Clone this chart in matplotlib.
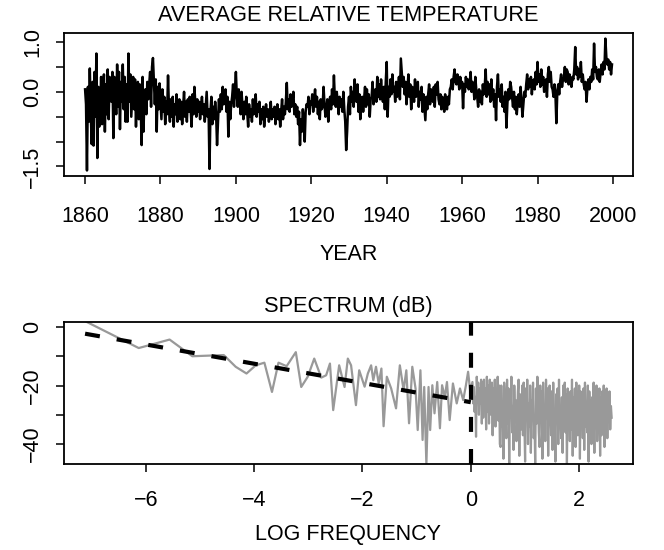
import matplotlib
matplotlib.use("Agg")
import matplotlib.pyplot as plt
import numpy as np

# monthly-ish anomalies, 4 values per year, 1860-1999
temp_start = 1860
temp_per_year = 4
temp_values = [
    # 1860s
    0.05, -0.25, -1.58, 0.10, -0.60, 0.47, -0.40, -1.05, 0.20, -1.08, 0.40, -0.50,
    0.77, -1.33, 0.10, -0.70, -0.35, 0.30, -0.65, 0.00, 0.35, -0.80, 0.15, -0.45,
    0.45, -0.55, 0.30, -0.10, -0.20, 0.40, -0.93, 0.30, 0.10, -0.45, 0.55, -0.30,
    0.40, -0.75, 0.20, -0.20,
    # 1870s
    0.55, -0.35, 0.30, -0.60, 0.15, -0.60, 0.77, -0.20, 0.35, -0.50, -0.10, 0.30,
    -0.35, 0.25, -0.70, 0.10, 0.20, -0.55, 0.15, -0.30, -1.07, 0.30, -0.80, 0.00,
    0.05, -0.45, 0.20, -0.15, 0.15, 0.40, -0.30, 0.50, 0.68, 0.20, -0.25, 0.25,
    -0.80, 0.10, -0.35, 0.17,
    # 1880s
    -0.20, -0.55, 0.05, -0.40, -0.10, -0.65, -0.20, -0.45, 0.33, -0.35, -0.60, -0.15,
    -0.50, -0.10, -0.70, -0.25, -0.45, -0.05, -0.60, -0.30, -0.15, -0.55, -0.20, -0.65,
    -0.30, 0.00, -0.50, -0.20, -0.60, -0.15, -0.40, -0.10, -0.35, -0.70, -0.05, -0.45,
    0.10, -0.25, -0.50, -0.15,
    # 1890s
    -0.40, -0.20, -0.55, -0.30, -0.10, -0.45, -0.25, -0.60, -0.30, 0.00, -0.50, -0.35,
    -1.55, -0.40, -0.10, -0.65, -0.30, -0.55, -0.20, -0.45, -1.07, -0.60, -0.15, -0.40,
    -0.05, -0.35, 0.10, -0.25, -0.15, 0.05, -0.40, -0.10, -0.90, -0.20, -0.55, -0.25,
    -0.10, 0.15, -0.30, 0.05,
    # 1900s
    0.40, -0.10, -0.30, 0.05, -0.15, -0.45, 0.00, -0.30, -0.55, -0.20, -0.45, -0.10,
    -0.40, -0.70, -0.25, -0.50, -0.35, -0.60, -0.15, -0.45, -0.30, -0.05, -0.50, -0.25,
    -0.40, -0.20, -0.65, -0.35, -0.55, -0.30, -0.70, -0.45, -0.25, -0.50, -0.35, -0.60,
    -0.45, -0.20, -0.55, -0.35,
    # 1910s
    -0.50, -0.30, -0.65, -0.40, -0.25, -0.55, -0.35, -0.70, -0.40, -0.15, -0.55, -0.30,
    -0.45, -0.20, 0.18, -0.35, -0.15, -0.40, -0.05, -0.30, -0.20, 0.00, -0.45, -0.25,
    -0.50, -0.30, -0.65, -0.40, -1.07, -0.55, -0.80, -0.35, -0.60, -1.00, -0.40, -0.25,
    -0.30, -0.10, -0.45, -0.20,
    # 1920s
    -0.25, -0.05, -0.40, -0.15, 0.05, -0.30, -0.10, -0.45, -0.20, -0.55, -0.15, -0.35,
    -0.30, 0.10, -0.25, -0.50, -0.35, -0.15, -0.60, -0.20, -0.10, -0.35, 0.05, -0.25,
    0.33, -0.15, -0.30, 0.00, -0.20, -0.45, -0.10, -0.30, -0.15, -0.40, 0.00, -0.35,
    -0.60, -1.17, -0.80, -0.30,
    # 1930s
    -0.10, -0.45, 0.10, -0.20, 0.00, -0.30, 0.25, -0.15, -0.20, 0.15, -0.40, -0.05,
    -0.55, -0.25, -0.10, -0.40, -0.15, 0.10, -0.30, 0.05, -0.25, -0.05, -0.50, -0.15,
    -0.10, 0.20, -0.25, 0.00, 0.05, -0.20, 0.30, -0.10, 0.15, -0.15, 0.25, -0.05,
    -0.20, 0.10, -0.35, 0.20,
    # 1940s
    0.60, -0.50, 0.10, -0.10, 0.25, -0.05, 0.35, 0.00, 0.10, -0.20, 0.20, -0.10,
    0.05, 0.30, -0.15, 0.67, 0.40, 0.10, 0.30, -0.05, 0.20, -0.25, 0.05, 0.35,
    -0.10, 0.15, -0.35, 0.10, 0.05, -0.20, 0.25, -0.10, -0.05, 0.20, -0.30, 0.00,
    -0.15, 0.10, -0.40, -0.05,
    # 1950s
    -0.30, -0.57, -0.10, -0.35, -0.05, 0.15, -0.25, 0.05, 0.00, -0.20, 0.10, -0.30,
    0.15, -0.05, 0.20, -0.15, -0.25, -0.05, -0.35, -0.10, -0.20, -0.40, -0.05, -0.30,
    -0.35, -0.10, -0.25, 0.05, 0.10, 0.25, 0.05, 0.30, 0.45, 0.20, 0.15, 0.35,
    0.25, 0.05, 0.30, 0.10,
    # 1960s
    0.20, -0.33, 0.15, 0.00, 0.30, 0.10, 0.25, 0.05, 0.15, 0.40, 0.00, 0.20,
    0.10, -0.15, 0.30, 0.05, -0.10, -0.30, 0.05, -0.20, 0.00, -0.25, 0.15, -0.05,
    0.10, 0.45, -0.10, 0.20, -0.05, 0.15, -0.20, 0.25, -0.15, 0.05, -0.30, -0.05,
    -0.57, 0.10, 0.35, -0.10,
    # 1970s
    0.05, -0.20, 0.15, -0.30, -0.10, -0.40, 0.00, -0.72, -0.25, 0.05, -0.15, 0.20,
    0.10, -0.10, -0.30, 0.00, -0.35, -0.10, -0.45, -0.20, -0.05, -0.30, 0.10, -0.15,
    -0.50, -0.25, 0.00, -0.10, 0.15, 0.35, 0.05, 0.25, 0.10, 0.30, -0.05, 0.20,
    0.25, 0.05, 0.40, 0.15,
    # 1980s
    0.60, 0.20, 0.35, 0.10, 0.45, 0.15, 0.30, 0.00, 0.05, 0.25, -0.10, 0.35,
    0.50, 0.20, 0.40, 0.10, 0.05, -0.10, 0.15, -0.05, -0.63, 0.00, 0.15, -0.05,
    0.20, 0.35, 0.10, 0.25, 0.30, 0.50, 0.20, 0.45, 0.40, 0.15, 0.35, 0.20,
    0.10, 0.30, 0.25, 0.45,
    # 1990s
    0.90, 0.35, 0.50, 0.25, 0.45, 0.30, 0.60, 0.20, 0.35, 0.15, 0.05, 0.20,
    -0.20, 0.10, 0.25, 0.05, 0.30, 0.20, 0.45, 0.25, 0.97, 0.40, 0.50, 0.30,
    0.25, 0.45, 0.20, 0.40, 0.55, 0.35, 0.60, 0.45, 1.07, 0.70, 0.55, 0.65,
    0.45, 0.60, 0.35, 0.55,
]

# spectrum: sparse low-frequency part (log freq, dB)
spec_logf = [
    -7.12, -6.13, -5.95, -5.56, -5.14, -4.56, -4.34, -4.14, -3.97, -3.81,
    -3.67, -3.55, -3.40, -3.23, -3.13, -3.01, -2.89, -2.76, -2.67, -2.60,
    -2.54, -2.43, -2.33, -2.27, -2.21, -2.12, -2.06, -1.96, -1.90, -1.84,
    -1.80, -1.75, -1.70, -1.65, -1.61, -1.55, -1.47, -1.38, -1.31, -1.24,
    -1.19, -1.14, -1.08, -1.02, -0.98, -0.93, -0.89, -0.86, -0.82, -0.78,
    -0.75, -0.71, -0.67, -0.62, -0.57, -0.53, -0.48, -0.44, -0.39, -0.33,
    -0.26, -0.20, -0.14, -0.09, -0.05, -0.01,
]
spec_db = [
    2.0, -7.2, -6.3, -4.3, -10.0, -9.6, -13.6, -15.9, -13.1, -12.2,
    -22.2, -12.2, -13.4, -8.6, -20.5, -17.0, -10.8, -17.3, -16.5, -12.5,
    -28.4, -13.1, -20.5, -10.8, -13.1, -26.7, -14.8, -20.4, -15.9, -13.1,
    -18.2, -13.6, -19.3, -14.2, -33.9, -17.0, -21.0, -27.8, -13.1, -21.6,
    -14.8, -32.9, -13.6, -21.0, -35.2, -14.8, -38.6, -20.5, -47.0, -20.5,
    -35.2, -19.9, -29.5, -18.8, -34.6, -19.9, -23.9, -18.8, -31.8, -19.3,
    -26.1, -21.0, -25.0, -19.9, -15.3, -22.0,
]

# dense high-frequency part, evenly spaced in log freq
dense_logf_range = (0.03, 2.60)
dense_db = [
    -18.8, -26.1, -20.5, -29.0, -23.9, -37.5, -17.0, -24, -19, -30, -21, -26, -18, -33,
    -19, -31, -18, -27, -21, -35, -17, -29, -20, -33, -18, -26, -30, -19, -37,
    -21, -28, -18, -34, -22, -27, -17, -32, -20, -40,
    -41, -20, -34, -26, -45, -19, -24, -30, -38, -18, -33, -21, -47, -23, -29, -17, -36, -27, -42, -20,
    -31, -25, -39, -33, -22, -18, -44, -23, -28, -35, -20, -37, -19, -32, -46, -21, -30, -18, -40, -26,
    -34, -20, -43, -25, -29, -19, -38, -31, -47, -21, -33, -17, -24, -36, -41, -20, -30, -22, -45, -19,
    -35, -27, -39, -18, -31, -21, -44, -28, -20, -24, -37, -22, -42, -19, -33, -29, -46, -23, -25, -21,
    -40, -18, -34, -30, -38, -24, -43, -20, -27, -19, -36, -23, -47, -21, -32, -26, -39, -22, -35, -18,
    -44, -24, -30, -21, -41, -19, -28, -37, -33, -20, -45, -22, -29, -24, -38, -21, -42, -19, -34, -27,
    -36, -20, -46, -22, -31, -25, -40, -24, -35, -19, -43, -22, -30, -20, -39, -28, -33, -21, -44, -24,
    -37, -22, -32, -20, -41, -23, -34, -21, -38, -26, -30, -22, -35, -27, -31,
]

# fitted trend (dashed) endpoints
trend_logf = [-7.12, 0.0]
trend_db = [-2.3, -25.7]

top_yticks = [-1.5, -1.0, -0.5, 0.0, 0.5, 1.0]
top_ylabels = ["\u22121.5", "", "", "0.0", "", "1.0"]
top_xticks = [1860, 1880, 1900, 1920, 1940, 1960, 1980, 2000]
bot_yticks = [-40, -30, -20, -10, 0]
bot_ylabels = ["\u221240", "", "\u221220", "", "0"]
bot_xticks = [-6, -4, -2, 0, 2]

plt.rcParams["font.family"] = ["Liberation Sans", "DejaVu Sans"]
plt.rcParams["font.size"] = 15.5

DASH = (0, (3.6, 4.1))
TITLE_SIZE = 15.7


def r_limits(lo, hi):
    pad = 0.04 * (hi - lo)
    return lo - pad, hi + pad


def style_axes(ax, xpad):
    for sp in ax.spines.values():
        sp.set_linewidth(1.3)
    ax.tick_params(direction="out", length=6, width=1.1)
    ax.tick_params(axis="x", pad=xpad)
    ax.tick_params(axis="y", labelrotation=90, pad=9)
    for lab in ax.get_yticklabels():
        lab.set_va("center")


fig = plt.figure(figsize=(6.64, 5.5), dpi=100)
ax1 = fig.add_axes([0.0964, 0.6805, 0.857, 0.2589])
ax2 = fig.add_axes([0.0964, 0.1564, 0.8565, 0.2587])

# top: temperature series
temp = np.array(temp_values)
years = temp_start + np.arange(len(temp)) / temp_per_year
ax1.plot(years, temp, color="black", lw=1.8)
ax1.set_xlim(*r_limits(years.min(), years.max()))
ax1.set_ylim(*r_limits(temp.min(), temp.max()))
ax1.set_xticks(top_xticks)
ax1.set_yticks(top_yticks)
ax1.set_yticklabels(top_ylabels)
ax1.set_title("AVERAGE RELATIVE TEMPERATURE", fontsize=TITLE_SIZE, pad=9)
ax1.set_xlabel("YEAR", labelpad=12)
style_axes(ax1, 16)

# bottom: spectrum
dense_x = np.linspace(*dense_logf_range, len(dense_db))
sx = np.concatenate([spec_logf, dense_x])
sy = np.concatenate([spec_db, dense_db])
ax2.plot(sx, sy, color="#999999", lw=1.6)
ax2.plot(trend_logf, trend_db, color="black", lw=3, linestyle=DASH)
ax2.axvline(0, color="black", lw=3, linestyle=DASH)
ax2.set_xlim(*r_limits(sx.min(), sx.max()))
ax2.set_ylim(*r_limits(-45, 0))
ax2.set_xticks(bot_xticks)
ax2.set_yticks(bot_yticks)
ax2.set_yticklabels(bot_ylabels)
ax2.set_title("SPECTRUM (dB)", fontsize=TITLE_SIZE, pad=7)
ax2.set_xlabel("LOG FREQUENCY", labelpad=9)
style_axes(ax2, 13)

fig.savefig("out.png", dpi=100)
